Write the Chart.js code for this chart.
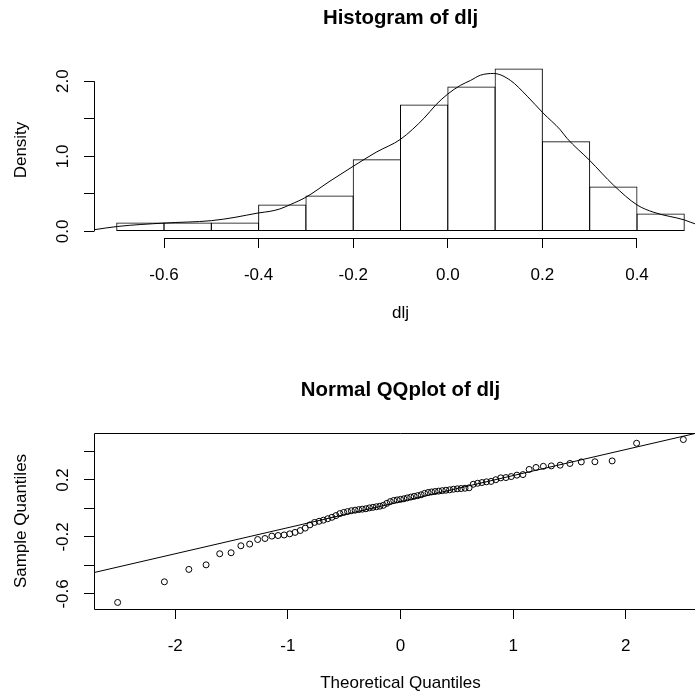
<!DOCTYPE html>
<html>
<head>
<meta charset="utf-8">
<title>dlj</title>
<script src="https://cdn.jsdelivr.net/npm/chart.js@4.4.1/dist/chart.umd.min.js"></script>
<style>
  html, body { margin: 0; padding: 0; background: #fff; overflow: hidden; }
  canvas { display: block; }
</style>
</head>
<body>
<canvas id="histChart" width="712" height="347"></canvas>
<canvas id="qqChart" width="712" height="347"></canvas>
<script>
// Histogram of dlj: bin breaks and the density of each bin
const binEdges = [-0.7, -0.6, -0.5, -0.4, -0.3, -0.2, -0.1, 0.0, 0.1, 0.2, 0.3, 0.4, 0.5];
const binDensity = [0.12, 0.12, 0.12, 0.36, 0.48, 0.96, 1.69, 1.93, 2.17, 1.20, 0.60, 0.24];

// kernel density curve drawn over the histogram
const curveX = [-0.748, -0.698, -0.600, -0.500, -0.450, -0.400, -0.376, -0.355, -0.333, -0.300,
                -0.249, -0.200, -0.175, -0.150, -0.100, -0.050, -0.025, 0.000, 0.027, 0.048,
                0.069, 0.097, 0.132, 0.168, 0.2015, 0.238, 0.252, 0.2995, 0.351, 0.400,
                0.4356, 0.5005, 0.524, 0.548];
const curveY = [0.023, 0.067, 0.112, 0.144, 0.188, 0.247, 0.268, 0.300, 0.358, 0.456,
                0.671, 0.868, 0.966, 1.060, 1.227, 1.509, 1.687, 1.830, 1.946, 2.010,
                2.080, 2.103, 2.013, 1.800, 1.576, 1.352, 1.240, 0.949, 0.613, 0.354,
                0.255, 0.153, 0.099, 0.075];

const histXTicks = [-0.6, -0.4, -0.2, 0.0, 0.2, 0.4];
const histXLabels = ['-0.6', '-0.4', '-0.2', '0.0', '0.2', '0.4'];
const histYTicks = [0, 0.5, 1.0, 1.5, 2.0];
const histYLabels = ['0.0', '', '1.0', '', '2.0'];

// Normal QQ plot: theoretical quantiles against the sorted sample
const theoQ = [
  -2.511, -2.096, -1.879, -1.726, -1.605, -1.504, -1.417, -1.339, -1.268, -1.203,
  -1.142, -1.087, -1.033, -0.983, -0.936, -0.890, -0.846, -0.804, -0.763, -0.723,
  -0.684, -0.646, -0.609, -0.573, -0.538, -0.504, -0.470, -0.436, -0.403, -0.371,
  -0.339, -0.307, -0.276, -0.245, -0.214, -0.183, -0.152, -0.121, -0.091, -0.060,
  -0.030, 0.000, 0.030, 0.060, 0.091, 0.121, 0.152, 0.183, 0.214, 0.245,
  0.276, 0.307, 0.339, 0.371, 0.403, 0.436, 0.470, 0.504, 0.538, 0.573,
  0.609, 0.646, 0.684, 0.723, 0.763, 0.804, 0.846, 0.890, 0.936, 0.983,
  1.033, 1.087, 1.142, 1.203, 1.268, 1.339, 1.417, 1.504, 1.605, 1.726,
  1.879, 2.096, 2.511
];
const sampleQ = [
  -0.660, -0.515, -0.428, -0.396, -0.318, -0.311, -0.262, -0.250, -0.218, -0.211,
  -0.194, -0.190, -0.186, -0.178, -0.168, -0.155, -0.138, -0.115, -0.098, -0.090,
  -0.082, -0.072, -0.062, -0.050, -0.036, -0.028, -0.022, -0.016, -0.012, -0.008,
  -0.005, -0.002, 0.004, 0.008, 0.012, 0.016, 0.022, 0.036, 0.048, 0.056,
  0.060, 0.064, 0.068, 0.074, 0.080, 0.085, 0.090, 0.096, 0.106, 0.112,
  0.116, 0.119, 0.122, 0.125, 0.128, 0.131, 0.135, 0.138, 0.140, 0.142,
  0.145, 0.170, 0.177, 0.182, 0.187, 0.190, 0.202, 0.215, 0.217, 0.224,
  0.234, 0.238, 0.274, 0.288, 0.296, 0.299, 0.304, 0.316, 0.327, 0.328,
  0.334, 0.458, 0.484
];

// qqline through the quartiles, given by its two ends
const qqLineX = [-2.721, 2.721];
const qqLineY = [-0.450, 0.546];

const qqXTicks = [-2, -1, 0, 1, 2];
const qqXLabels = ['-2', '-1', '0', '1', '2'];
const qqYTicks = [-0.6, -0.4, -0.2, 0.0, 0.2, 0.4];
const qqYLabels = ['-0.6', '', '-0.2', '', '0.2', ''];

Chart.defaults.font.family = "'Liberation Sans', Arial, Helvetica, sans-serif";
Chart.defaults.font.size = 17;
Chart.defaults.color = '#000';

// R style axis lines: either only across the ticks, or a full box round the plot
function rAxisLines(box, xTicks, yTicks) {
    return {
        id: 'rAxisLines',
        afterDraw(chart) {
            const {ctx, chartArea: a, scales: {x, y}} = chart;
            ctx.save();
            ctx.strokeStyle = '#000';
            ctx.lineWidth = 1;
            ctx.beginPath();
            const left = Math.round(a.left) + 0.5;
            const bottom = Math.round(a.bottom) + 0.5;
            if (box) {
                const top = Math.round(a.top) + 0.5;
                ctx.rect(left, top, Math.round(a.right) - left, bottom - top);
            } else {
                ctx.moveTo(left, y.getPixelForValue(yTicks[0]));
                ctx.lineTo(left, y.getPixelForValue(yTicks[yTicks.length - 1]));
                ctx.moveTo(x.getPixelForValue(xTicks[0]), bottom);
                ctx.lineTo(x.getPixelForValue(xTicks[xTicks.length - 1]), bottom);
            }
            ctx.stroke();
            ctx.restore();
        }
    };
}

function axisX(min, max, ticks, labels, title, height, titlePad) {
    return {
        type: 'linear',
        min: min,
        max: max,
        offset: false,
        afterBuildTicks: s => { s.ticks = ticks.map(v => ({value: v})); },
        afterFit: s => { s.height = height; },
        ticks: {
            autoSkip: false,
            maxRotation: 0,
            padding: 17,
            callback: (v, i) => labels[i]
        },
        grid: {
            offset: false,
            drawOnChartArea: false,
            drawTicks: true,
            tickLength: 10,
            color: '#000'
        },
        border: { display: false },
        title: {
            display: true,
            text: title,
            padding: { top: 0, bottom: titlePad }
        }
    };
}

function axisY(min, max, ticks, labels, title, labelPad) {
    return {
        type: 'linear',
        min: min,
        max: max,
        afterBuildTicks: s => { s.ticks = ticks.map(v => ({value: v})); },
        afterFit: s => { s.width = 94; },
        ticks: {
            autoSkip: false,
            minRotation: 90,
            maxRotation: 90,
            crossAlign: 'center',
            padding: labelPad,
            callback: (v, i) => labels[i]
        },
        grid: {
            drawOnChartArea: false,
            drawTicks: true,
            tickLength: 10,
            color: '#000'
        },
        border: { display: false },
        title: {
            display: true,
            text: title,
            padding: { top: 11.3, bottom: 0 }
        }
    };
}

function mainTitle(text, padTop, padBottom) {
    return {
        display: true,
        text: text,
        fullSize: false,
        font: { size: 20.4, weight: 'bold' },
        padding: { top: padTop, bottom: padBottom }
    };
}

// Top panel: histogram with density curve
const binMids = binDensity.map((d, i) => (binEdges[i] + binEdges[i + 1]) / 2);

new Chart(document.getElementById('histChart'), {
    type: 'bar',
    data: {
        datasets: [
            {
                type: 'line',
                data: curveX.map((v, i) => ({x: v, y: curveY[i]})),
                borderColor: '#000',
                borderWidth: 1,
                pointRadius: 0,
                cubicInterpolationMode: 'monotone',
                fill: false,
                order: 0
            },
            {
                type: 'bar',
                data: binMids.map((m, i) => ({x: m, y: binDensity[i]})),
                backgroundColor: 'rgba(255, 255, 255, 0)',
                borderColor: '#000',
                borderWidth: 1,
                borderSkipped: false,
                categoryPercentage: 1,
                barPercentage: 1.02,
                order: 1
            }
        ]
    },
    options: {
        responsive: false,
        animation: false,
        layout: { padding: { left: 0, right: 5, top: 0, bottom: 0 } },
        plugins: {
            legend: { display: false },
            tooltip: { enabled: false },
            title: mainTitle('Histogram of dlj', 5.76, 31.76)
        },
        scales: {
            x: axisX(-0.748, 0.548, histXTicks, histXLabels, 'dlj', 109, 23.8),
            y: axisY(-0.0868, 2.2558, histYTicks, histYLabels, 'Density', 9.2)
        }
    },
    plugins: [rAxisLines(false, histXTicks, histYTicks)]
});

// Bottom panel: normal QQ plot with reference line
new Chart(document.getElementById('qqChart'), {
    type: 'scatter',
    data: {
        datasets: [
            {
                type: 'line',
                data: qqLineX.map((v, i) => ({x: v, y: qqLineY[i]})),
                borderColor: '#000',
                borderWidth: 1,
                pointRadius: 0,
                fill: false,
                order: 0
            },
            {
                data: theoQ.map((t, i) => ({x: t, y: sampleQ[i]})),
                pointStyle: 'circle',
                pointRadius: 3,
                borderWidth: 1,
                borderColor: '#000',
                backgroundColor: 'rgba(0, 0, 0, 0)',
                order: 1
            }
        ]
    },
    options: {
        responsive: false,
        animation: false,
        layout: { padding: { left: 0, right: 5, top: 0, bottom: 0 } },
        plugins: {
            legend: { display: false },
            tooltip: { enabled: false },
            title: mainTitle('Normal QQplot of dlj', 30.76, 30.76)
        },
        scales: {
            x: axisX(-2.721, 2.721, qqXTicks, qqXLabels, 'Theoretical Quantiles', 85, 0),
            y: axisY(-0.706, 0.530, qqYTicks, qqYLabels, 'Sample Quantiles', 6.35)
        }
    },
    plugins: [rAxisLines(true, qqXTicks, qqYTicks)]
});
</script>
</body>
</html>
